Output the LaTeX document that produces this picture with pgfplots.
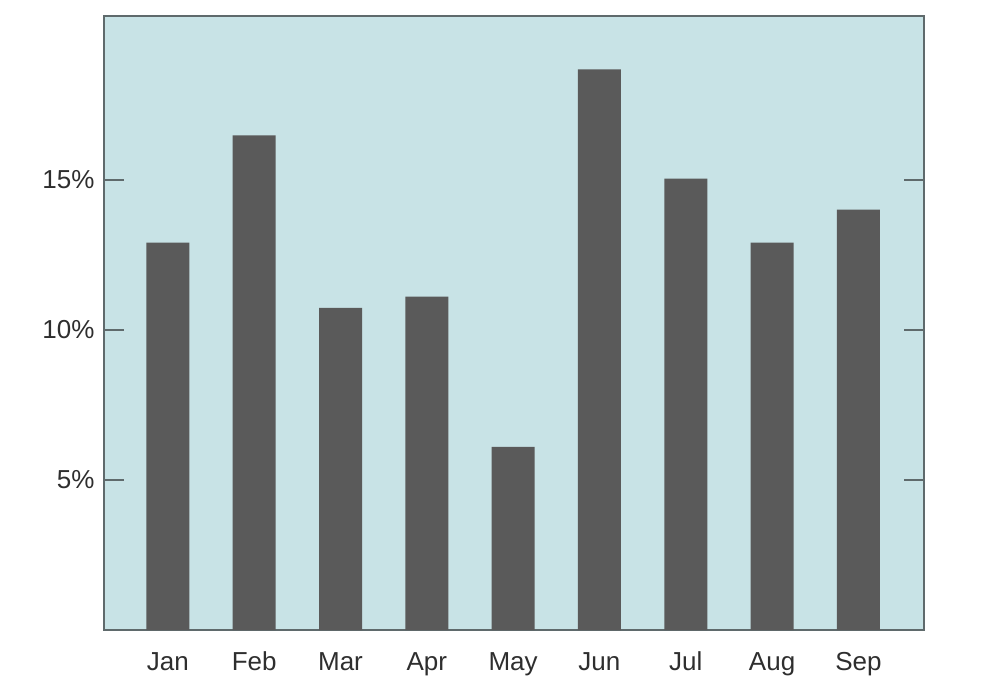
\documentclass[border=0pt]{standalone}
\usepackage{pgfplots}
\pgfplotsset{compat=1.18}
\usepackage{fontspec}
\setmainfont{Liberation Sans}
\definecolor{bgc}{HTML}{C8E3E6}
\definecolor{barc}{HTML}{5A5A5A}
\definecolor{framec}{HTML}{5F6A6C}
\begin{document}
\begin{tikzpicture}[x=1pt,y=1pt]
\useasboundingbox (-104,-63) rectangle (883,630);
\begin{axis}[
  at={(0,0)}, anchor=south west,
  scale only axis, width=820pt, height=614pt,
  xmin=-0.74, xmax=8.76, ymin=0, ymax=20.45,
  axis background/.style={fill=bgc},
  axis line style={framec, line width=1.5pt},
  xtick={0,1,2,3,4,5,6,7,8},
  xticklabels={Jan,Feb,Mar,Apr,May,Jun,Jul,Aug,Sep},
  major x tick style={draw=none},
  ytick={5,10,15},
  yticklabels={5\%,10\%,15\%},
  ytick pos=both,
  tick align=inside,
  major tick length=20pt,
  major y tick style={framec, line width=2.2pt},
  tick label style={font=\fontsize{26}{30}\selectfont, text=black!82},
  xticklabel style={yshift=2pt, text height=19pt, text depth=5pt, anchor=north},
  yticklabel style={xshift=-6pt},
  /pgf/number format/assume math mode=true,
  ybar, bar width=43pt,
]
\addplot[fill=barc, draw=none] coordinates {
(0,12.9) (1,16.47) (2,10.73) (3,11.1) (4,6.1) (5,18.67) (6,15.03) (7,12.9) (8,14.0)};
\end{axis}
\end{tikzpicture}
\end{document}
